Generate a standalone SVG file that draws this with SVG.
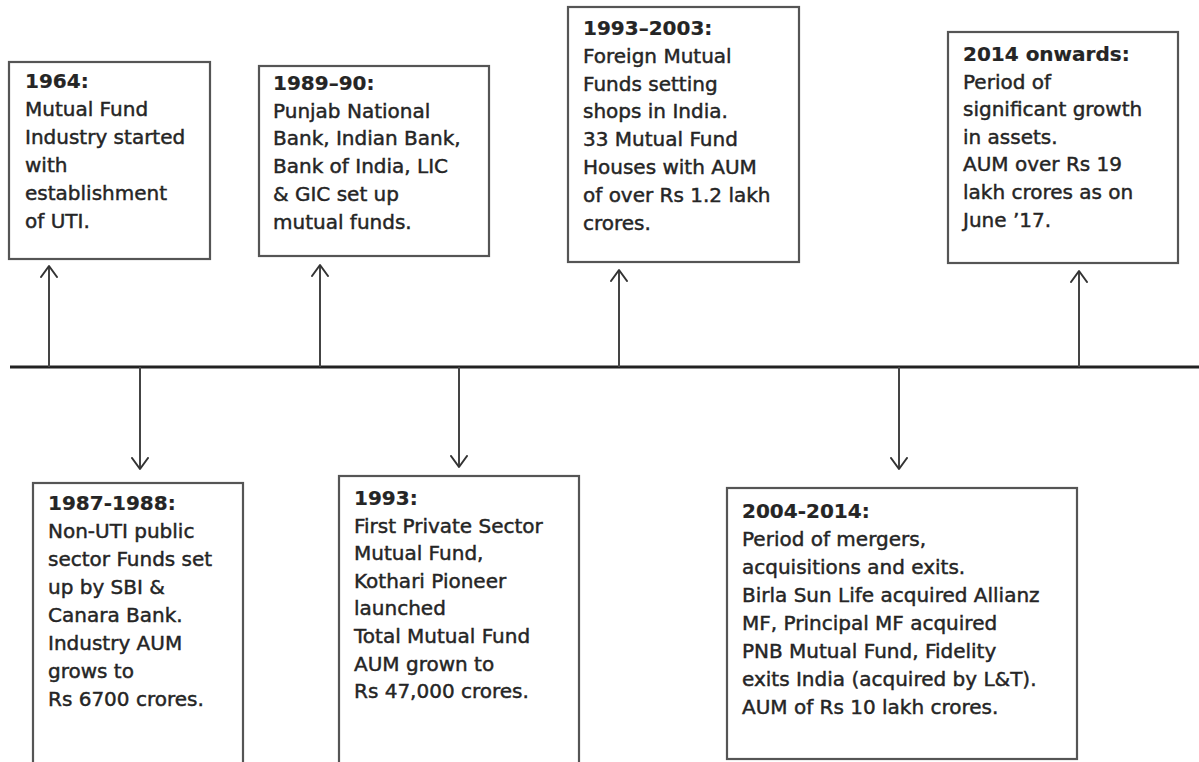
<svg xmlns="http://www.w3.org/2000/svg" width="1199" height="762" viewBox="0 0 1199 762">
<style>
.box{fill:#fff;stroke:#555;stroke-width:2.2}
.t{font-family:"DejaVu Sans","Liberation Sans",sans-serif;font-size:20px;fill:#252525;stroke:#252525;stroke-width:0.45}
.h{font-weight:bold;stroke-width:0.2}
.shaft{stroke:#444;stroke-width:2;fill:none}
.axis{stroke:#222;stroke-width:3;fill:none}
</style>
<defs>
<marker id="arr" viewBox="0 0 14 18" refX="12" refY="9" markerWidth="14" markerHeight="18" markerUnits="userSpaceOnUse" orient="auto">
<path d="M1,1 L12,9 L1,17" fill="none" stroke="#333" stroke-width="2" stroke-linejoin="round" stroke-linecap="round"/>
</marker>
</defs>
<rect width="1199" height="762" fill="#fff"/>
<g id="connectors">
<line class="axis" x1="10" y1="367" x2="1199" y2="367"/>
<line class="shaft" x1="49" y1="367" x2="49" y2="266" marker-end="url(#arr)"/>
<line class="shaft" x1="320" y1="367" x2="320" y2="265" marker-end="url(#arr)"/>
<line class="shaft" x1="619" y1="367" x2="619" y2="270" marker-end="url(#arr)"/>
<line class="shaft" x1="1079" y1="367" x2="1079" y2="271" marker-end="url(#arr)"/>
<line class="shaft" x1="140" y1="367" x2="140" y2="469" marker-end="url(#arr)"/>
<line class="shaft" x1="459" y1="367" x2="459" y2="467" marker-end="url(#arr)"/>
<line class="shaft" x1="899" y1="367" x2="899" y2="469" marker-end="url(#arr)"/>
</g>
<g id="n1964">
<rect class="box" x="9" y="62" width="201" height="197"/>
<text class="t" x="25" y="88"><tspan class="h">1964:</tspan><tspan x="25" dy="28">Mutual Fund</tspan><tspan x="25" dy="28">Industry started</tspan><tspan x="25" dy="28">with</tspan><tspan x="25" dy="28">establishment</tspan><tspan x="25" dy="28">of UTI.</tspan></text>
</g>
<g id="n1989">
<rect class="box" x="259" y="66" width="230" height="190"/>
<text class="t" x="273" y="90"><tspan class="h">1989–90:</tspan><tspan x="273" dy="27.7">Punjab National</tspan><tspan x="273" dy="27.7">Bank, Indian Bank,</tspan><tspan x="273" dy="27.7">Bank of India, LIC</tspan><tspan x="273" dy="27.7">&amp; GIC set up</tspan><tspan x="273" dy="27.7">mutual funds.</tspan></text>
</g>
<g id="n1993_2003">
<rect class="box" x="568" y="7" width="231" height="255"/>
<text class="t" x="583" y="35"><tspan class="h">1993–2003:</tspan><tspan x="583" dy="27.8">Foreign Mutual</tspan><tspan x="583" dy="27.8">Funds setting</tspan><tspan x="583" dy="27.8">shops in India.</tspan><tspan x="583" dy="27.8">33 Mutual Fund</tspan><tspan x="583" dy="27.8">Houses with AUM</tspan><tspan x="583" dy="27.8">of over Rs 1.2 lakh</tspan><tspan x="583" dy="27.8">crores.</tspan></text>
</g>
<g id="n2014">
<rect class="box" x="948" y="32" width="230" height="231"/>
<text class="t" x="963" y="61"><tspan class="h">2014 onwards:</tspan><tspan x="963" dy="27.6">Period of</tspan><tspan x="963" dy="27.6">significant growth</tspan><tspan x="963" dy="27.6">in assets.</tspan><tspan x="963" dy="27.6">AUM over Rs 19</tspan><tspan x="963" dy="27.6">lakh crores as on</tspan><tspan x="963" dy="27.6">June ’17.</tspan></text>
</g>
<g id="n1987">
<rect class="box" x="33" y="483" width="210" height="300"/>
<text class="t" x="48" y="510"><tspan class="h">1987-1988:</tspan><tspan x="48" dy="28">Non-UTI public</tspan><tspan x="48" dy="28">sector Funds set</tspan><tspan x="48" dy="28">up by SBI &amp;</tspan><tspan x="48" dy="28">Canara Bank.</tspan><tspan x="48" dy="28">Industry AUM</tspan><tspan x="48" dy="28">grows to</tspan><tspan x="48" dy="28">Rs 6700 crores.</tspan></text>
</g>
<g id="n1993">
<rect class="box" x="339" y="476" width="240" height="300"/>
<text class="t" x="354" y="505"><tspan class="h">1993:</tspan><tspan x="354" dy="27.6">First Private Sector</tspan><tspan x="354" dy="27.6">Mutual Fund,</tspan><tspan x="354" dy="27.6">Kothari Pioneer</tspan><tspan x="354" dy="27.6">launched</tspan><tspan x="354" dy="27.6">Total Mutual Fund</tspan><tspan x="354" dy="27.6">AUM grown to</tspan><tspan x="354" dy="27.6">Rs 47,000 crores.</tspan></text>
</g>
<g id="n2004">
<rect class="box" x="727" y="488" width="350" height="271"/>
<text class="t" x="742" y="518"><tspan class="h">2004-2014:</tspan><tspan x="742" dy="28">Period of mergers,</tspan><tspan x="742" dy="28">acquisitions and exits.</tspan><tspan x="742" dy="28">Birla Sun Life acquired Allianz</tspan><tspan x="742" dy="28">MF, Principal MF acquired</tspan><tspan x="742" dy="28">PNB Mutual Fund, Fidelity</tspan><tspan x="742" dy="28">exits India (acquired by L&amp;T).</tspan><tspan x="742" dy="28">AUM of Rs 10 lakh crores.</tspan></text>
</g>
</svg>
